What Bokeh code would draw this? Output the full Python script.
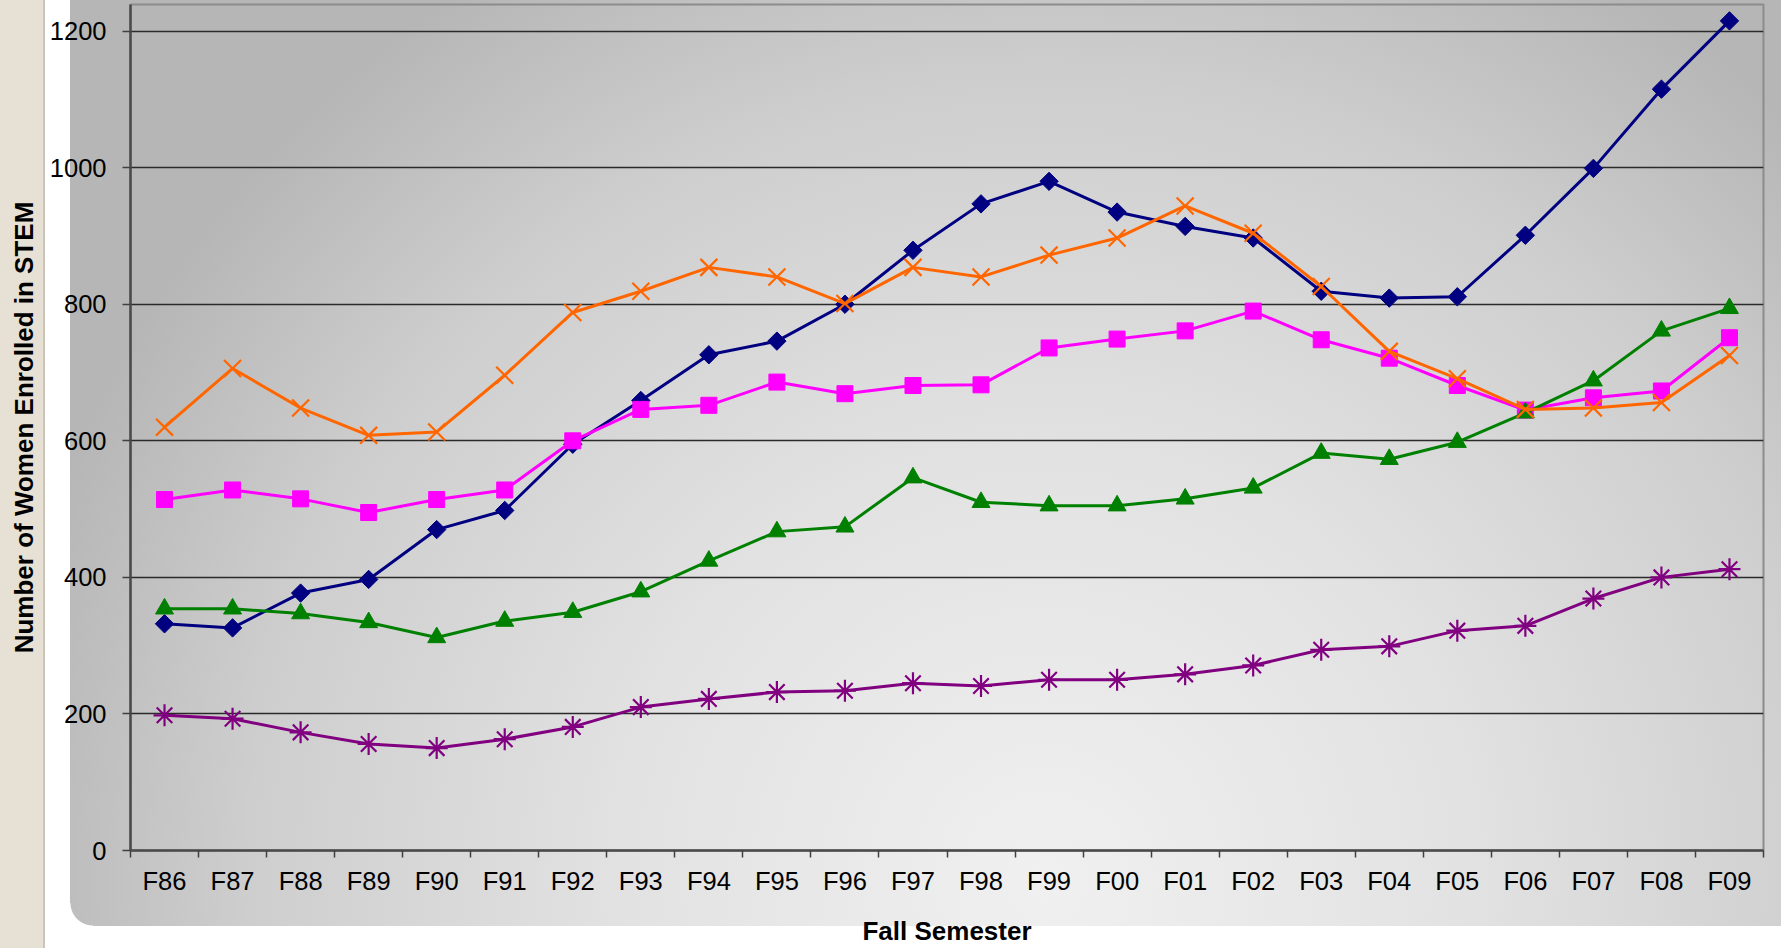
from bokeh.plotting import figure
from bokeh.models import Range1d, FixedTicker
from bokeh.embed import file_html
from bokeh.resources import INLINE

categories = ["F86", "F87", "F88", "F89", "F90", "F91", "F92", "F93", "F94", "F95", "F96", "F97",
              "F98", "F99", "F00", "F01", "F02", "F03", "F04", "F05", "F06", "F07", "F08", "F09"]

navy_vals = [332, 326, 377, 397, 470, 498, 595, 659, 726, 746, 800, 879,
             947, 980, 935, 914, 897, 819, 809, 811, 901, 999, 1115, 1215]
orange_vals = [620, 706, 648, 608, 613, 696, 788, 819, 854, 840, 801, 854,
               840, 872, 897, 944, 904, 826, 731, 691, 646, 648, 656, 725]
magenta_vals = [514, 528, 515, 495, 514, 528, 600, 646, 652, 686, 669, 681,
                682, 736, 749, 761, 790, 748, 721, 681, 645, 663, 673, 751]
green_vals = [354, 354, 347, 334, 312, 336, 349, 379, 424, 467, 474, 546,
              510, 505, 505, 515, 531, 582, 573, 598, 641, 688, 761, 794]
purple_vals = [198, 193, 173, 156, 150, 163, 181, 210, 222, 232, 234, 245,
               241, 250, 250, 258, 271, 294, 299, 322, 329, 369, 400, 412]

y_ticks = [0, 200, 400, 600, 800, 1000, 1200]

x = list(range(len(categories)))

FONT = "Liberation Sans"

p = figure(width=1781, height=948, output_backend="svg", toolbar_location=None,
           x_range=Range1d(-0.5, len(categories) - 0.5), y_range=Range1d(0, 1239),
           min_border_left=130, min_border_right=18, min_border_top=4, min_border_bottom=95)

p.border_fill_color = None
p.background_fill_color = None
p.outline_line_color = "#8c8c8c"
p.outline_line_width = 2

panel_grad = ("radial-gradient(ellipse 62% 115% at 57% 95%, #f0f0f0 0%, #e2e2e2 40%, "
              "#cecece 75%, #b6b6b6 100%)")
p.styles = {
    "background-color": "#ffffff",
    "background-image": (
        "linear-gradient(to right, #e6e0d5 0px, #e6e0d5 43px, #cbc5b9 43px, #cbc5b9 45px), "
        "radial-gradient(circle at 100% 0%, rgba(255,255,255,0) 22px, #ffffff 23px), "
        + panel_grad
    ),
    "background-size": "45px 100%, 23px 23px, 1711px 926px",
    "background-position": "0px 0px, 70px 903px, 70px 0px",
    "background-repeat": "no-repeat",
}

# x axis
p.xaxis.ticker = FixedTicker(ticks=x, minor_ticks=[i - 0.5 for i in range(len(categories) + 1)])
p.xaxis.major_label_overrides = {i: c for i, c in enumerate(categories)}
p.xaxis.major_tick_out = 0
p.xaxis.major_tick_in = 0
p.xaxis.minor_tick_out = 7
p.xaxis.minor_tick_in = 0
p.xaxis.minor_tick_line_color = "#404040"
p.xaxis.minor_tick_line_width = 1.5
p.xaxis.axis_line_color = "#4a4a4a"
p.xaxis.axis_line_width = 2.5
p.xaxis.major_label_text_font = FONT
p.xaxis.major_label_text_font_size = "25.5px"
p.xaxis.major_label_text_color = "#000000"
p.xaxis.major_label_standoff = 9
p.xaxis.axis_label = "Fall Semester"
p.xaxis.axis_label_text_font = FONT
p.xaxis.axis_label_text_font_style = "bold"
p.xaxis.axis_label_text_font_size = "26px"
p.xaxis.axis_label_text_color = "#000000"
p.xaxis.axis_label_standoff = 18

# y axis
p.yaxis.ticker = FixedTicker(ticks=y_ticks)
p.yaxis.major_tick_out = 8
p.yaxis.major_tick_in = 0
p.yaxis.minor_tick_line_color = None
p.yaxis.major_tick_line_color = "#404040"
p.yaxis.major_tick_line_width = 1.5
p.yaxis.axis_line_color = "#4a4a4a"
p.yaxis.axis_line_width = 2.5
p.yaxis.major_label_text_font = FONT
p.yaxis.major_label_text_font_size = "25.5px"
p.yaxis.major_label_text_color = "#000000"
p.yaxis.major_label_standoff = 16
p.yaxis.axis_label = "Number of Women Enrolled in STEM"
p.yaxis.axis_label_text_font = FONT
p.yaxis.axis_label_text_font_style = "bold"
p.yaxis.axis_label_text_font_size = "26px"
p.yaxis.axis_label_text_color = "#000000"
p.yaxis.axis_label_standoff = 8

p.xgrid.grid_line_color = None
p.ygrid.grid_line_color = "#2a2a2a"
p.ygrid.grid_line_width = 1.3

# series (bottom to top)
LW = 3
p.line(x, navy_vals, line_color="#000080", line_width=LW)
p.scatter(x, navy_vals, marker="square", angle=0.7854, size=13, fill_color="#000080",
          line_color="#000080")

p.line(x, magenta_vals, line_color="#FF00FF", line_width=LW)
p.scatter(x, magenta_vals, marker="square", size=16, fill_color="#FF00FF", line_color="#FF00FF")

p.line(x, green_vals, line_color="#008000", line_width=LW)
p.scatter(x, green_vals, marker="triangle", size=18, fill_color="#008000", line_color="#008000")

p.line(x, purple_vals, line_color="#800080", line_width=LW)
p.scatter(x, purple_vals, marker="asterisk", size=22, line_color="#800080", line_width=2.2)

p.line(x, orange_vals, line_color="#FF6600", line_width=LW)
p.scatter(x, orange_vals, marker="x", size=24, line_color="#FF6600", line_width=2.2)

open("out.html", "w").write(file_html(p, INLINE))
